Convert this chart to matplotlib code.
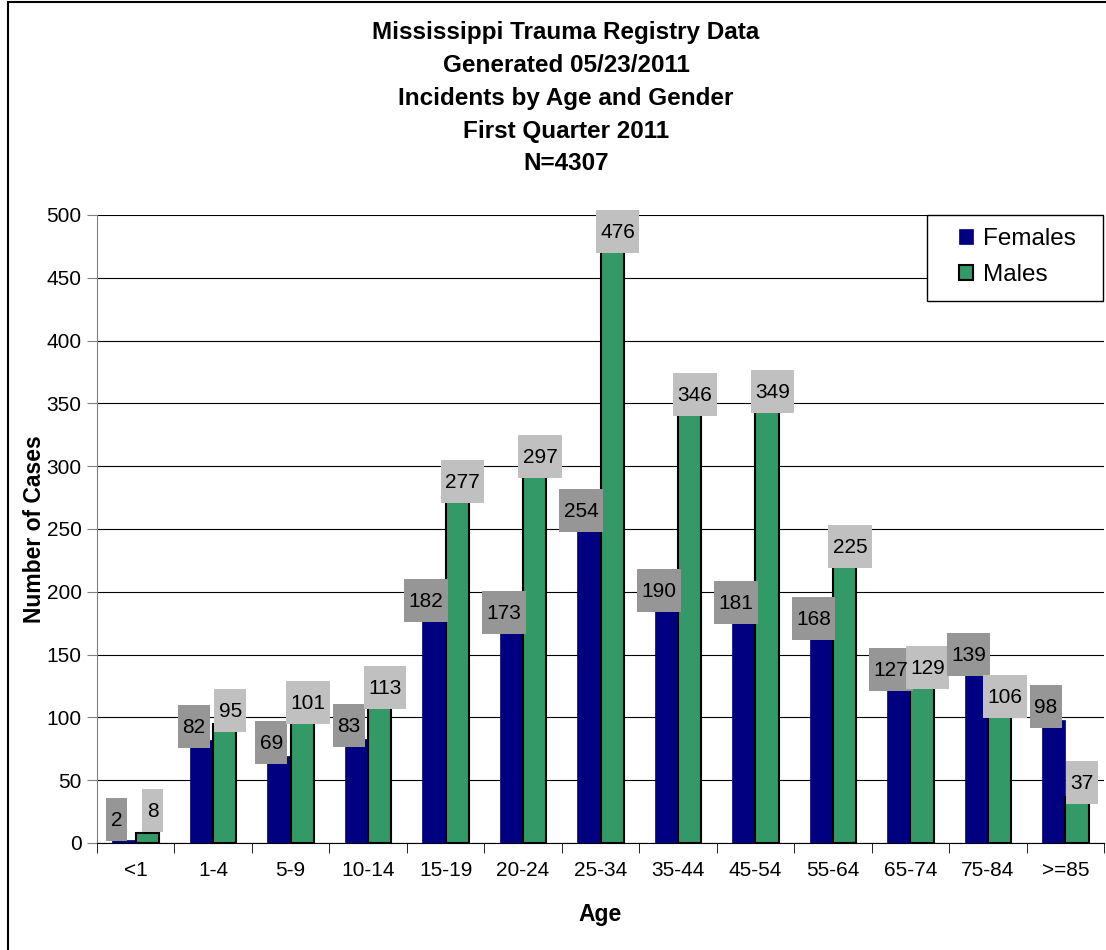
import matplotlib.pyplot as plt
import numpy as np
from matplotlib.patches import Rectangle
from matplotlib.transforms import IdentityTransform

plt.rcParams['font.family'] = ['Liberation Sans', 'DejaVu Sans']

ages = ['<1', '1-4', '5-9', '10-14', '15-19', '20-24', '25-34',
        '35-44', '45-54', '55-64', '65-74', '75-84', '>=85']
females = [2, 82, 69, 83, 182, 173, 254, 190, 181, 168, 127, 139, 98]
males = [8, 95, 101, 113, 277, 297, 476, 346, 349, 225, 129, 106, 37]

title_lines = ['Mississippi Trauma Registry Data',
               'Generated 05/23/2011',
               'Incidents by Age and Gender',
               'First Quarter 2011',
               'N=4307']

W, H = 1106, 950
fig = plt.figure(figsize=(W / 100, H / 100), dpi=100)
ax = fig.add_axes([97 / W, 107 / H, 1007 / W, 628 / H])

x = np.arange(len(ages))
w = 0.3
ax.bar(x - w / 2, females, w, color='#000080', edgecolor='#000080',
       linewidth=0.5, zorder=3, label='Females')
ax.bar(x + w / 2, males, w, color='#339966', edgecolor='black',
       linewidth=1.5, zorder=3, label='Males')

ax.set_xlim(-0.5, len(ages) - 0.5)
ax.set_ylim(0, 500)
ax.set_yticks(range(0, 501, 50))
ax.yaxis.grid(True, color='black', linewidth=0.8)
ax.set_axisbelow(True)

ax.set_xticks(x)
ax.set_xticklabels(ages, fontsize=15)
ax.tick_params(axis='x', which='major', length=0, pad=13)
ax.set_xticks(np.arange(-0.5, len(ages), 1), minor=True)
ax.tick_params(axis='x', which='minor', length=7, color='black')
ax.tick_params(axis='y', labelsize=15, length=7, color='#808080', pad=4)

for s in ['top', 'right']:
    ax.spines[s].set_visible(False)
ax.spines['left'].set_color('#808080')
ax.spines['bottom'].set_color('black')

# data labels
labels = []
for i in range(len(ages)):
    t = ax.text(i - 0.25, max(females[i] + 10, 18), str(females[i]),
                ha='center', va='center', fontsize=15, zorder=6)
    labels.append((t, '#969696'))
    t = ax.text(i + 0.22, max(males[i] + 10, 25), str(males[i]),
                ha='center', va='center', fontsize=15, zorder=6)
    labels.append((t, '#c0c0c0'))

# legend: frame drawn separately so the padding can match
ax.add_patch(Rectangle((830 / 1007, (843 - 301) / 628), 176 / 1007, 86 / 628,
                       facecolor='white', edgecolor='black', linewidth=1,
                       transform=ax.transAxes, zorder=9, clip_on=False))
leg = ax.legend(loc='center left', bbox_to_anchor=(862 / 1007, 586 / 628),
                borderaxespad=0, borderpad=0, frameon=False, fontsize=17.5,
                handlelength=0.58, handleheight=0.58, handletextpad=0.4,
                labelspacing=0.6)
leg.set_zorder(10)

for i, line in enumerate(title_lines):
    fig.text(566 / W, 1 - (33 + i * 32.75) / H, line, ha='center', va='center',
             fontsize=17.5, fontweight='bold')

fig.text(600 / W, 1 - 915 / H, 'Age', ha='center', va='center',
         fontsize=16.5, fontweight='bold')
fig.text(35 / W, 1 - 529 / H, 'Number of Cases', ha='center', va='center',
         rotation=90, fontsize=16.5, fontweight='bold')

# outer chart border
fig.add_artist(Rectangle((8 / W, -0.1), 1.2, 1.1 - 1.5 / H, fill=False,
                         edgecolor='black', linewidth=1.5,
                         transform=fig.transFigure, clip_on=False))

# grey boxes behind the data labels
fig.canvas.draw()
r = fig.canvas.get_renderer()
for t, c in labels:
    bb = t.get_window_extent(r)
    cx = (bb.x0 + bb.x1) / 2
    cy = (bb.y0 + bb.y1) / 2 + 1
    bw = bb.width + 9
    bh = 43
    ax.add_artist(Rectangle((cx - bw / 2, cy - bh / 2), bw, bh, facecolor=c,
                            edgecolor='none', transform=IdentityTransform(),
                            zorder=5, clip_on=False))

fig.savefig('out.png', dpi=100)
